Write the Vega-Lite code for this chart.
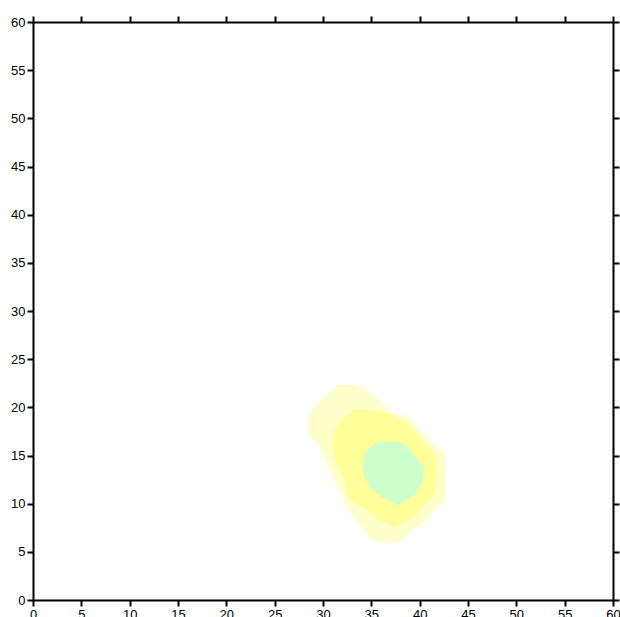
{
  "$schema": "https://vega.github.io/schema/vega-lite/v6.json",
  "width": 580,
  "height": 578,
  "autosize": "none",
  "padding": {"left": 33, "top": 22, "right": 7, "bottom": 17},
  "background": "white",
  "config": {
    "view": {"stroke": null},
    "axis": {
      "domainColor": "black",
      "domainWidth": 2,
      "tickColor": "black",
      "tickWidth": 2,
      "tickSize": 6,
      "labelFont": "Liberation Sans",
      "labelFontSize": 13,
      "labelColor": "black",
      "labelPadding": 2,
      "labelFlush": false,
      "labelOverlap": false,
      "grid": false,
      "title": null,
      "values": [0, 5, 10, 15, 20, 25, 30, 35, 40, 45, 50, 55, 60]
    }
  },
  "data": {
    "values": [
      {"level": "outer", "x": 28.45, "top": 19.41, "bot": 17.13},
      {"level": "outer", "x": 29.38, "top": 20.32, "bot": 16.30},
      {"level": "outer", "x": 30.21, "top": 21.11, "bot": 14.53},
      {"level": "outer", "x": 31.45, "top": 22.32, "bot": 11.83},
      {"level": "outer", "x": 32.59, "top": 22.32, "bot": 9.34},
      {"level": "outer", "x": 33.52, "top": 22.32, "bot": 8.18},
      {"level": "outer", "x": 35.07, "top": 21.39, "bot": 6.12},
      {"level": "outer", "x": 36.93, "top": 19.52, "bot": 6.02},
      {"level": "outer", "x": 37.96, "top": 19.23, "bot": 6.02},
      {"level": "outer", "x": 38.79, "top": 19.00, "bot": 6.96},
      {"level": "outer", "x": 40.24, "top": 17.44, "bot": 7.89},
      {"level": "outer", "x": 41.79, "top": 15.88, "bot": 9.65},
      {"level": "outer", "x": 42.62, "top": 15.26, "bot": 10.17},
      {"level": "middle", "x": 30.93, "top": 16.92, "bot": 15.57},
      {"level": "middle", "x": 31.55, "top": 18.27, "bot": 13.81},
      {"level": "middle", "x": 32.27, "top": 19.07, "bot": 12.15},
      {"level": "middle", "x": 32.59, "top": 19.31, "bot": 10.59},
      {"level": "middle", "x": 33.31, "top": 19.83, "bot": 10.13},
      {"level": "middle", "x": 34.65, "top": 19.72, "bot": 9.24},
      {"level": "middle", "x": 35.90, "top": 19.52, "bot": 8.20},
      {"level": "middle", "x": 37.24, "top": 19.20, "bot": 7.58},
      {"level": "middle", "x": 38.79, "top": 18.17, "bot": 8.20},
      {"level": "middle", "x": 40.24, "top": 16.61, "bot": 9.55},
      {"level": "middle", "x": 41.58, "top": 14.95, "bot": 11.11},
      {"level": "middle", "x": 41.79, "top": 14.74, "bot": 13.18},
      {"level": "inner", "x": 34.14, "top": 14.74, "bot": 13.29},
      {"level": "inner", "x": 34.34, "top": 15.36, "bot": 12.66},
      {"level": "inner", "x": 34.86, "top": 15.78, "bot": 11.73},
      {"level": "inner", "x": 35.69, "top": 16.40, "bot": 11.00},
      {"level": "inner", "x": 36.21, "top": 16.40, "bot": 10.59},
      {"level": "inner", "x": 37.65, "top": 16.40, "bot": 9.86},
      {"level": "inner", "x": 38.17, "top": 16.30, "bot": 10.12},
      {"level": "inner", "x": 39.00, "top": 15.57, "bot": 10.54},
      {"level": "inner", "x": 39.31, "top": 15.16, "bot": 10.69},
      {"level": "inner", "x": 40.34, "top": 13.91, "bot": 12.35}
    ]
  },
  "resolve": {"axis": {"x": "independent", "y": "independent"}},
  "layer": [
    {
      "transform": [{"filter": "datum.level === 'outer'"}],
      "mark": {"type": "area", "color": "#ffffcc", "interpolate": "linear"},
      "encoding": {
        "x": {"field": "x", "type": "quantitative", "scale": {"domain": [0, 60], "nice": false, "zero": false}, "axis": {"orient": "bottom"}},
        "y": {"field": "top", "type": "quantitative", "scale": {"domain": [0, 60], "nice": false, "zero": false}, "axis": {"orient": "left"}},
        "y2": {"field": "bot"}
      }
    },
    {
      "transform": [{"filter": "datum.level === 'middle'"}],
      "mark": {"type": "area", "color": "#ffff99", "interpolate": "linear"},
      "encoding": {
        "x": {"field": "x", "type": "quantitative", "scale": {"domain": [0, 60], "nice": false, "zero": false}, "axis": {"orient": "top", "labels": false}},
        "y": {"field": "top", "type": "quantitative", "scale": {"domain": [0, 60], "nice": false, "zero": false}, "axis": {"orient": "right", "labels": false}},
        "y2": {"field": "bot"}
      }
    },
    {
      "transform": [{"filter": "datum.level === 'inner'"}],
      "mark": {"type": "area", "color": "#ccffcc", "interpolate": "linear"},
      "encoding": {
        "x": {"field": "x", "type": "quantitative", "scale": {"domain": [0, 60], "nice": false, "zero": false}, "axis": null},
        "y": {"field": "top", "type": "quantitative", "scale": {"domain": [0, 60], "nice": false, "zero": false}, "axis": null},
        "y2": {"field": "bot"}
      }
    }
  ]
}
